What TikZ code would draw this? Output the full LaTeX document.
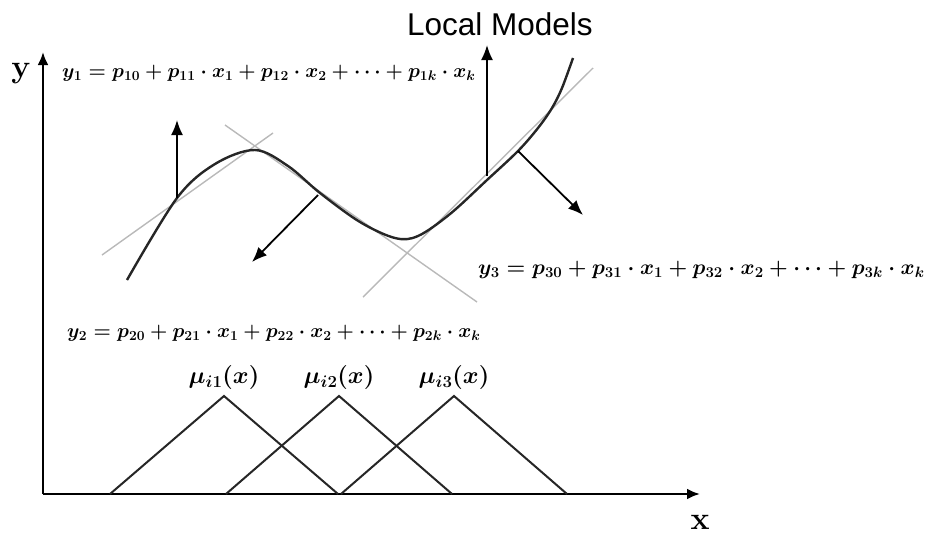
\RequirePackage{fix-cm}
\documentclass[tikz,border=0pt]{standalone}
\usepackage{fontspec}
\usepackage{amsmath}
\newfontfamily\labelfont{Liberation Sans}
\usetikzlibrary{arrows.meta, positioning}

\begin{document}
\begin{tikzpicture}[
    x=1pt, y=-1pt,
    axis/.style={line width=2.6pt, -{Latex[length=13pt,width=11pt]}},
    tangent/.style={gray!55, line width=1.4pt},
    model/.style={line width=2.4pt, black!85, line join=round},
    pointer/.style={line width=1.8pt, -{Latex[length=15pt,width=12pt]}},
    member/.style={line width=2pt, black!85, line join=miter},
    eq/.style={inner sep=0pt, font=\fontsize{19.8}{24}\selectfont\boldmath},
    mu/.style={inner sep=0pt, font=\fontsize{24}{28}\selectfont\boldmath},
    axlabel/.style={inner sep=0pt, font=\fontsize{32}{36}\selectfont\bfseries}
]
\useasboundingbox (0,0) rectangle (928,536);

% axes
\coordinate (origin) at (43,494);
\coordinate (ytop) at (43,52);
\coordinate (xend) at (700,494);
\draw[axis] (origin) -- (ytop);
\draw[axis] (origin) -- (xend);
\node[axlabel] (ylabel) at (21,74) {y};
\node[axlabel] (xlabel) at (700,522) {x};

% tangent lines
\draw[tangent] (102,255) -- (273,133);
\draw[tangent] (225,125) -- (477,302);
\draw[tangent] (363,297) -- (593,68);

% nonlinear model
\draw[model] plot[smooth, tension=0.55] coordinates {(127,280) (177,198) (215,164) (255,150) (288,166) (320,193) (360,222) (395,238) (418,236) (450,214) (487,180) (518,151) (538,128) (552,108) (562,88) (573,58)};

% points on the curve and arrow ends
\coordinate (c1) at (177,198);
\coordinate (h1) at (177,120);
\coordinate (c2) at (318,195);
\coordinate (h2) at (252,262);
\coordinate (c3) at (487,176);
\coordinate (h3) at (487,45);
\coordinate (c4) at (518,151);
\coordinate (h4) at (583,215);
\draw[pointer] (c1) -- (h1);
\draw[pointer] (c2) -- (h2);
\draw[pointer] (c3) -- (h3);
\draw[pointer] (c4) -- (h4);

\node[font=\labelfont\fontsize{31.5}{36}\selectfont] (local) at (500,24) {Local Models};

% local model equations
\node[eq, anchor=west] (eqone) at (62,73) {$y_1 = p_{10} + p_{11}\cdot x_1 + p_{12}\cdot x_2 + \cdots + p_{1k}\cdot x_k$};
\node[eq, anchor=west, font=\fontsize{21.4}{26}\selectfont\boldmath] (eqthree) at (478,270) {$y_3 = p_{30} + p_{31}\cdot x_1 + p_{32}\cdot x_2 + \cdots + p_{3k}\cdot x_k$};
\node[eq, anchor=west] (eqtwo) at (67,333) {$y_2 = p_{20} + p_{21}\cdot x_1 + p_{22}\cdot x_2 + \cdots + p_{2k}\cdot x_k$};

% membership functions
\foreach \l/\p/\r [count=\i] in {110/224/338, 226/339/452, 341/454/567} {
    \draw[member] (\l,494) -- (\p,396) -- (\r,494);
    \node[mu, anchor=south] (mu\i) at (\p,390) {$\mu_{i\i}(x)$};
}
\end{tikzpicture}
\end{document}
